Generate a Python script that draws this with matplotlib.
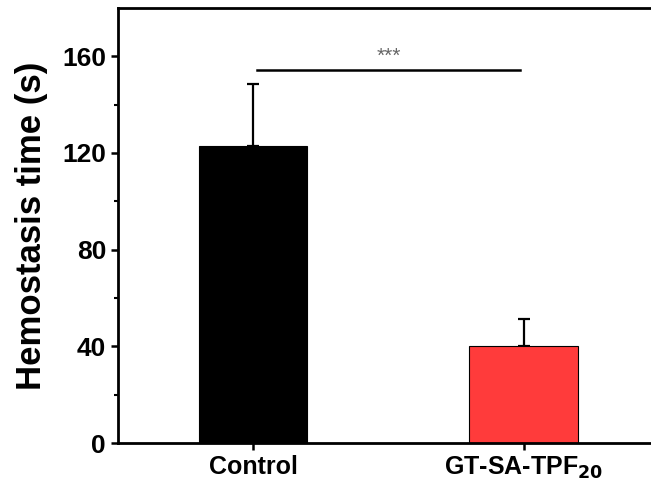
import matplotlib.pyplot as plt

plt.rcParams['font.family'] = ['Liberation Sans', 'DejaVu Sans']
plt.rcParams['font.weight'] = 'bold'

groups = ['Control', 'GT-SA-TPF$_{\\mathbf{20}}$']
means = [123, 40]
errors = [25.5, 11.5]
colors = ['#000000', '#FF3B3B']
sig_height = 154.5
sig_label = '***'

fig = plt.figure(figsize=(6.51, 4.95), dpi=100)
ax = fig.add_axes([0.181, 0.105, 0.831, 0.879])

x = [1, 2]
ax.bar(x, means, width=0.4, color=colors, edgecolor='black', linewidth=0.8, zorder=2)
ax.errorbar(x, means, yerr=[[0, 0], errors], fmt='none', ecolor='black',
            elinewidth=1.6, capsize=4.5, capthick=1.6, zorder=1)

# significance bar
ax.plot([1.015, 1.985], [sig_height, sig_height], color='black', linewidth=1.8)
ax.text(1.5, sig_height + 1.5, sig_label, ha='center', va='bottom',
        fontsize=15, fontweight='normal', color='#666666')

ax.set_xlim(0.5, 2.5)
ax.set_ylim(0, 180)
ax.set_xticks(x)
ax.set_xticklabels(groups, fontsize=18, fontweight='bold')
ax.set_yticks([0, 40, 80, 120, 160])
ax.set_yticks([20, 60, 100, 140], minor=True)
ax.tick_params(axis='y', labelsize=19, width=1.8, length=5)
ax.tick_params(axis='y', which='minor', width=1.5, length=3)
ax.tick_params(axis='x', width=1.8, length=5)
for label in ax.get_yticklabels():
    label.set_fontweight('bold')

for sp in ax.spines.values():
    sp.set_linewidth(2.0)

ax.set_ylabel('Hemostasis time (s)', fontsize=25, fontweight='bold', labelpad=10)

plt.savefig('out.png', dpi=100)
